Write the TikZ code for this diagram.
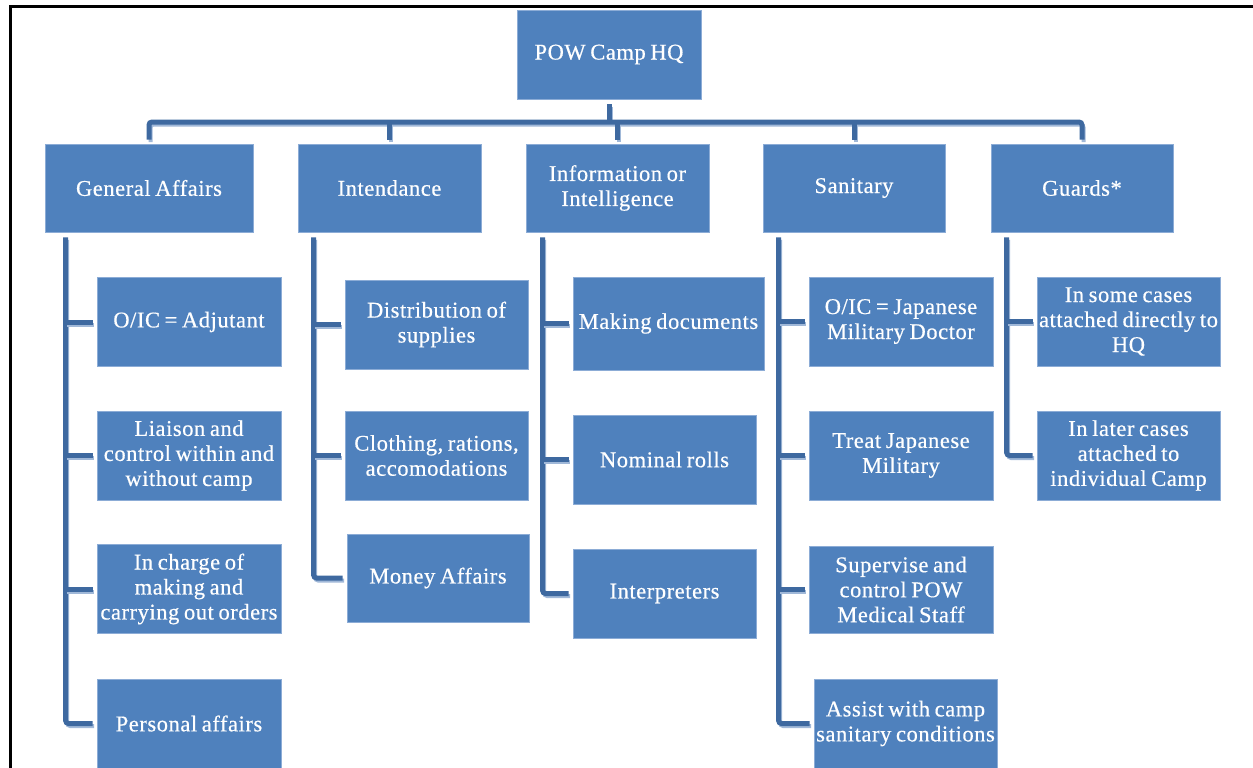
\documentclass[tikz,border=0pt]{standalone}
\usepackage{fontspec}
\setmainfont{Liberation Serif}[LetterSpace=2.5,WordSpace=0.75,FakeBold=0.5]
\usetikzlibrary{calc}
\definecolor{boxblue}{RGB}{79,129,189}
\definecolor{boxedge}{RGB}{140,172,214}
\definecolor{conndark}{RGB}{62,105,160}
\definecolor{connlight}{RGB}{160,184,216}
\tikzset{
  box/.style={rectangle, fill=boxblue, draw=boxedge, line width=0.8pt, text=white,
    align=center, inner sep=0pt, minimum width=184pt, minimum height=89pt,
    font=\fontsize{22.5}{25}\selectfont},
  conn/.style={draw=conndark, line width=5pt, rounded corners=3pt,
    preaction={draw=connlight, line width=4pt, transform canvas={xshift=1.5pt,yshift=-2.5pt}}},
  frame/.style={draw=black, line width=3pt}
}
\begin{document}
\begin{tikzpicture}[x=1pt,y=-1pt]
\useasboundingbox (0,0) rectangle (1253,768);
\fill[white] (0,0) rectangle (1253,768);
% frame
\draw[frame] (10,768) -- (10,7) -- (1253,7);
% level 0
\node[box] (hq) at (609,54.5) {POW Camp HQ};
% level 1
\node[box, minimum width=208pt, minimum height=88pt] (ga) at (149,188) {General Affairs};
\node[box, minimum width=183pt, minimum height=88pt] (in) at (389.5,188) {Intendance};
\node[box, minimum width=183pt, minimum height=88pt] (inf) at (617.5,188) {Information or\\Intelligence};
\node[box, minimum width=182pt, minimum height=88pt] (sa) at (854,188) {Sanitary};
\node[box, minimum width=182pt, minimum height=88pt] (gd) at (1082,188) {Guards*};
% General Affairs children
\node[box] (ga1) at (189,322) {O/IC = Adjutant};
\node[box] (ga2) at (189,455.5) {Liaison and\\control within and\\without camp};
\node[box] (ga3) at (189,589) {In charge of\\making and\\carrying out orders};
\node[box] (ga4) at (189,723.5) {Personal affairs};
% Intendance children
\node[box, minimum width=183pt] (in1) at (436.5,324.5) {Distribution of\\supplies};
\node[box, minimum width=183pt] (in2) at (436.5,455.5) {Clothing, rations,\\accomodations};
\node[box, minimum width=182pt, minimum height=88pt] (in3) at (438,578) {Money Affairs};
% Information children
\node[box, minimum width=191pt, minimum height=93pt] (inf1) at (668.5,323.5) {Making documents};
\node[box, minimum width=183pt] (inf2) at (664.5,459.5) {Nominal rolls};
\node[box, minimum width=183pt] (inf3) at (664.5,593.5) {Interpreters};
% Sanitary children
\node[box] (sa1) at (901,321.5) {O/IC = Japanese\\Military Doctor};
\node[box] (sa2) at (901,455.5) {Treat Japanese\\Military};
\node[box, minimum height=87pt] (sa3) at (901,589.5) {Supervise and\\control POW\\Medical Staff};
\node[box, minimum width=183pt] (sa4) at (905.5,723.5) {Assist with camp\\sanitary conditions};
% Guards children
\node[box, minimum width=183pt] (gd1) at (1128.5,321.5) {In some cases\\attached directly to\\HQ};
\node[box, minimum width=183pt] (gd2) at (1128.5,455.5) {In later cases\\attached to\\individual Camp};
% bus
\coordinate (bus) at (609,122);
\draw[conn] ($(hq.south)+(0,5)$) -- (bus);
\draw[conn] ($(ga.north)+(0,-4)$) |- (bus) -| ($(gd.north)+(0,-4)$);
\draw[conn] ($(in.north)+(0,-4)$) -- (in.north |- bus);
\draw[conn] ($(inf.north)+(0,-4)$) -- (inf.north |- bus);
\draw[conn] ($(sa.north)+(0,-4)$) -- (sa.north |- bus);
% trunks
\coordinate (gat) at ($(ga.south west)+(21,5)$);
\coordinate (int) at ($(in.south west)+(16,5)$);
\coordinate (inft) at ($(inf.south west)+(17,5)$);
\coordinate (sat) at ($(sa.south west)+(16,5)$);
\coordinate (gdt) at ($(gd.south west)+(16,5)$);
\draw[conn] (gat) |- ($(ga4.west)+(-4,0)$);
\draw[conn] (gat |- ga1.west) -- ($(ga1.west)+(-4,0)$);
\draw[conn] (gat |- ga2.west) -- ($(ga2.west)+(-4,0)$);
\draw[conn] (gat |- ga3.west) -- ($(ga3.west)+(-4,0)$);
\draw[conn] (int) |- ($(in3.west)+(-4,0)$);
\draw[conn] (int |- in1.west) -- ($(in1.west)+(-4,0)$);
\draw[conn] (int |- in2.west) -- ($(in2.west)+(-4,0)$);
\draw[conn] (inft) |- ($(inf3.west)+(-4,0)$);
\draw[conn] (inft |- inf1.west) -- ($(inf1.west)+(-4,0)$);
\draw[conn] (inft |- inf2.west) -- ($(inf2.west)+(-4,0)$);
\draw[conn] (sat) |- ($(sa4.west)+(-4,0)$);
\draw[conn] (sat |- sa1.west) -- ($(sa1.west)+(-4,0)$);
\draw[conn] (sat |- sa2.west) -- ($(sa2.west)+(-4,0)$);
\draw[conn] (sat |- sa3.west) -- ($(sa3.west)+(-4,0)$);
\draw[conn] (gdt) |- ($(gd2.west)+(-4,0)$);
\draw[conn] (gdt |- gd1.west) -- ($(gd1.west)+(-4,0)$);
\end{tikzpicture}
\end{document}
